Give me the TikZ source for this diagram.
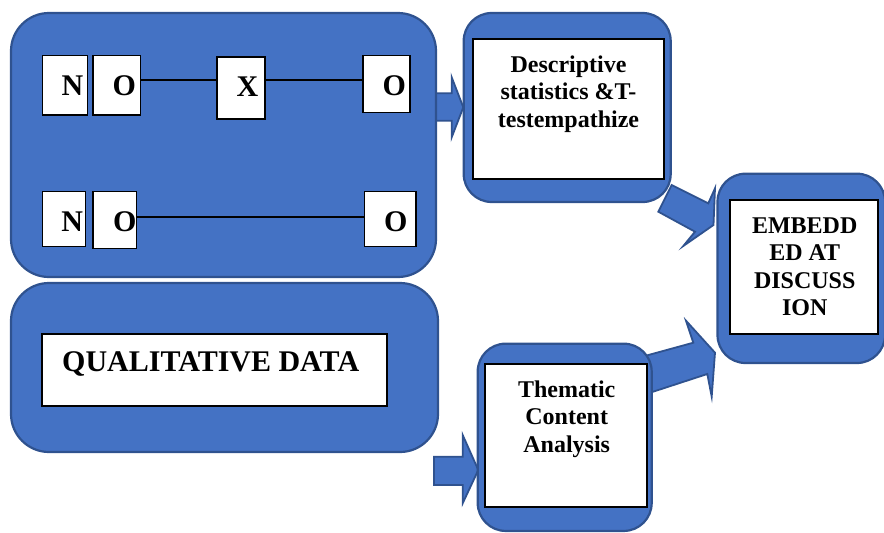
\documentclass[tikz,border=0pt]{standalone}
\usepackage{fontspec}
\setmainfont{Liberation Serif}
\definecolor{panelblue}{HTML}{4472C4}
\definecolor{paneledge}{HTML}{2F528F}
\begin{document}
\begin{tikzpicture}[x=1pt,y=-1pt,
  panel/.style={draw=paneledge, fill=panelblue, line width=2.2pt, rounded corners=28pt, inner sep=0pt},
  bigpanel/.style={panel, rounded corners=38pt},
  sheet/.style={draw=black, fill=white, line width=2pt, inner sep=0pt},
  letterbox/.style={draw=black, fill=white, line width=1.8pt, inner sep=0pt},
  caption/.style={font=\bfseries\fontsize{24}{27.5}\selectfont, align=center, inner sep=0pt, anchor=base},
  letter/.style={font=\bfseries\fontsize{30}{30}\selectfont, inner sep=0pt, anchor=base},
  blockarrow/.style={draw=paneledge, fill=panelblue, line width=1.8pt, line join=miter},
  link/.style={draw=black, line width=1.3pt}]
\useasboundingbox (0,0) rectangle (884,533);

% block arrows between the panels (drawn first, panels overlap their ends)
\draw[blockarrow] (432,93.3) -- (451.7,93.3) -- (451.7,77.3) -- (463.3,107.3)
  -- (451.7,137.3) -- (451.7,120.7) -- (432,120.7) -- cycle;
\draw[blockarrow] (671.7,185) -- (708.3,203.3) -- (715,188.3) -- (713.5,225)
  -- (683.3,246) -- (695,231.7) -- (658.3,211.7) -- cycle;
\draw[blockarrow] (640,357.3) -- (693.3,342.7) -- (686,320.7) -- (715,352.7)
  -- (711.7,396.7) -- (707.3,374) -- (640,396) -- cycle;
\draw[blockarrow] (434,456.7) -- (462.7,456.7) -- (462.7,435) -- (478.3,470)
  -- (462.7,503.3) -- (462.7,485) -- (434,485) -- cycle;

% panels
\node[bigpanel, minimum width=425pt, minimum height=264pt] (design) at (223.5,145) {};
\node[panel, minimum width=207pt, minimum height=189pt] (quant) at (567.2,107.5) {};
\node[panel, minimum width=167.5pt, minimum height=189.3pt] (embed) at (801.25,268.35) {};
\node[panel, minimum width=174pt, minimum height=187.3pt] (theme) at (564.7,437.3) {};
\node[bigpanel, minimum width=427pt, minimum height=169pt] (qual) at (224.5,367.5) {};

% white text sheets
\node[sheet, minimum width=191.3pt, minimum height=140.3pt] (quantsheet) at (568.35,108.85) {};
\node[sheet, minimum width=148pt, minimum height=133.7pt] (embedsheet) at (804.3,267.15) {};
\node[sheet, minimum width=162pt, minimum height=143pt] (themesheet) at (566,435.8) {};
\node[sheet, minimum width=344.7pt, minimum height=72pt] (qualsheet) at (214.65,369.7) {};

% research design: N O X O / N O O
\node[letterbox, minimum width=45pt, minimum height=59.5pt] (N1) at (65,85.25) {};
\node[letterbox, minimum width=47.5pt, minimum height=59.5pt] (O1) at (116.75,85.25) {};
\node[letterbox, minimum width=48pt, minimum height=62pt] (X) at (241,88) {};
\node[letterbox, minimum width=47pt, minimum height=57pt] (O2) at (386.5,84) {};
\node[letterbox, minimum width=43pt, minimum height=55pt] (N2) at (64,219) {};
\node[letterbox, minimum width=43.5pt, minimum height=57pt] (O3) at (114.75,220) {};
\node[letterbox, minimum width=51.5pt, minimum height=55pt] (O4) at (390.25,219) {};

\coordinate (rowA) at (0,80);
\coordinate (rowB) at (0,217);
\draw[link] (O1.east |- rowA) -- (X.west |- rowA);
\draw[link] (X.east |- rowA) -- (O2.west |- rowA);
\draw[link] (O3.east |- rowB) -- (O4.west |- rowB);

\node[letter] (tN1) at (72.5,95.7) {N};
\node[letter] (tO1) at (124.3,95.7) {O};
\node[letter] (tX) at (247.5,96.5) {X};
\node[letter] (tO2) at (394.3,95.7) {O};
\node[letter] (tN2) at (72.2,231.7) {N};
\node[letter] (tO3) at (124.7,231.7) {O};
\node[letter] (tO4) at (395.7,231.7) {O};

% captions (base anchor sits on the last line)
\node[caption] (quanttext) at (568.5,127.3) {Descriptive\\statistics \&T-\\testempathize};
\node[caption] (embedtext) at (804.7,315.7) {EMBEDD\\ED AT\\DISCUSS\\ION};
\node[caption] (themetext) at (566.7,452) {Thematic\\Content\\Analysis};
\node[font=\bfseries\fontsize{30}{30}\selectfont, inner sep=0pt, anchor=base west] (qualtext) at (62,371.7) {QUALITATIVE DATA};
\end{tikzpicture}
\end{document}
